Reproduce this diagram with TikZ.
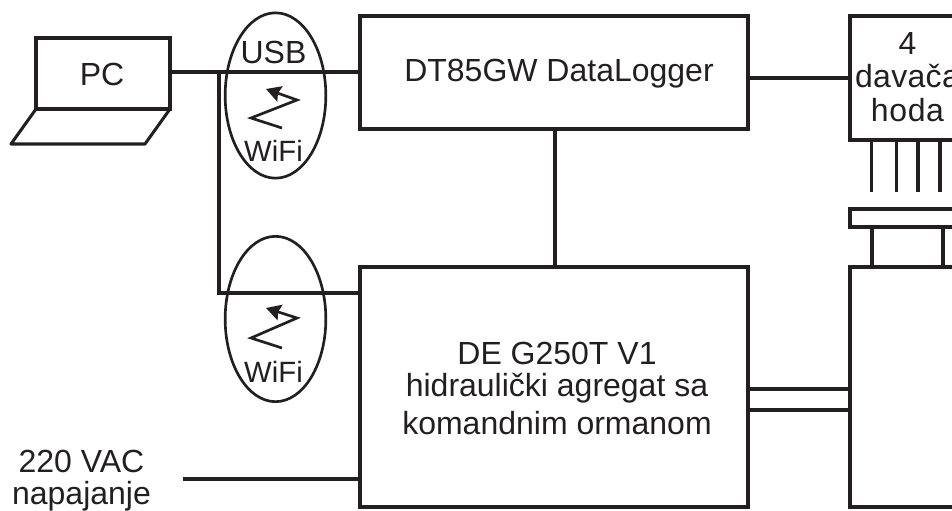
\documentclass[tikz,border=0pt]{standalone}
\usepackage{fontspec}
\setmainfont{Liberation Sans}
\usetikzlibrary{arrows.meta,calc,shapes.geometric}
\definecolor{ink}{HTML}{231F20}
\tikzset{
  line/.style={draw=ink,line width=2.3pt,line join=miter},
  box/.style={line,rectangle,inner sep=0pt,outer sep=0pt,anchor=north west,minimum width=#1},
  lbl/.style={inner sep=0pt,text=ink,font=\fontsize{24}{25}\selectfont,align=center},
  oval/.style={draw=ink,line width=2pt,ellipse,minimum width=75.5pt,minimum height=124pt,inner sep=0pt,outer sep=0pt},
  zig/.style={draw=ink,line width=2pt,-{Stealth[length=11pt,width=12pt,inset=1.5pt]}},
}
\begin{document}
\begin{tikzpicture}[x=0.75pt,y=-0.75pt]
\useasboundingbox (0,0) rectangle (952,510);
\clip (0,0) rectangle (952,510);
% laptop
\node[box=100.5pt,minimum height=53.25pt] (screen) at (36,38) {};
\node[lbl] (pctext) at (102,74) {PC};
\coordinate (baseL) at (11,144);
\coordinate (baseR) at (145,144);
\draw[line,line join=round] (screen.south west) -- (baseL) -- (baseR) -- (screen.south east);
% main boxes
\node[box=291pt,minimum height=84.75pt] (dt) at (360,16) {};
\node[lbl,anchor=base] (dttext) at (559,82) {DT85GW DataLogger};
\node[box=291pt,minimum height=180pt] (de) at (360,267) {};
\node[lbl,font=\fontsize{24}{24}\selectfont] (detext) at (557,388) {DE G250T V1\\hidraulički agregat sa\\[4.5pt]komandnim ormanom};
\node[box=87pt,minimum height=93pt] (dav) at (850,16) {};
\node[lbl] (davtext) at (907.5,77) {4\\{\addfontfeature{LetterSpace=1}davača}\\{\addfontfeature{LetterSpace=2}hoda}};
\node[box=87pt,minimum height=13.5pt] (flange) at (850,209) {};
\node[box=53.25pt,minimum height=30pt] (neck) at (872,227) {};
\node[box=87pt,minimum height=180pt] (cyl) at (850,267) {};
% ovals
\node[oval] (o1) at (275.5,95.5) {};
\node[oval] (o2) at (275.5,319) {};
\node[lbl] (usb) at (273.5,52.5) {USB};
\node[lbl,font=\fontsize{22}{24}\selectfont] (wifi1) at (273.5,151) {WiFi};
\node[lbl,font=\fontsize{22}{24}\selectfont] (wifi2) at (273.5,372) {WiFi};
% wifi zigzags
\coordinate (a1) at (282,128);\coordinate (a2) at (251,118);\coordinate (a3) at (297,100);\coordinate (a4) at (266,89);
\draw[zig] (a1) -- (a2) -- (a3) -- (a4);
\coordinate (b1) at (282,348);\coordinate (b2) at (251,338);\coordinate (b3) at (297,318);\coordinate (b4) at (266,308);
\draw[zig] (b1) -- (b2) -- (b3) -- (b4);
% connectors
\coordinate (j1) at (219,72);
\coordinate (j2) at (219,293);
\draw[line] (screen.east |- j1) -- (dt.west |- j1);
\draw[line] (j1) -- (j2) -- (de.west |- j2);
\draw[line] (dt.east |- 0,78) -- (dav.west |- 0,78);
\draw[line] (dt.south -| 555,0) -- (de.north -| 555,0);
\draw[line] (de.east |- 0,389) -- (cyl.west |- 0,389);
\draw[line] (de.east |- 0,410) -- (cyl.west |- 0,410);
\coordinate (mains) at (183,479);
\draw[line] (mains) -- (de.west |- mains);
\node[lbl,font=\fontsize{24}{24}\selectfont] (vac) at (81.5,481) {220 VAC\\napajanje};
% sensor leads
\foreach \x/\n in {871.5/p1,896.5/p2,918/p3,940/p4}{
  \coordinate (\n) at (\x,192);
  \draw[line] (dav.south -| \n) -- (\n);
}
\end{tikzpicture}
\end{document}
